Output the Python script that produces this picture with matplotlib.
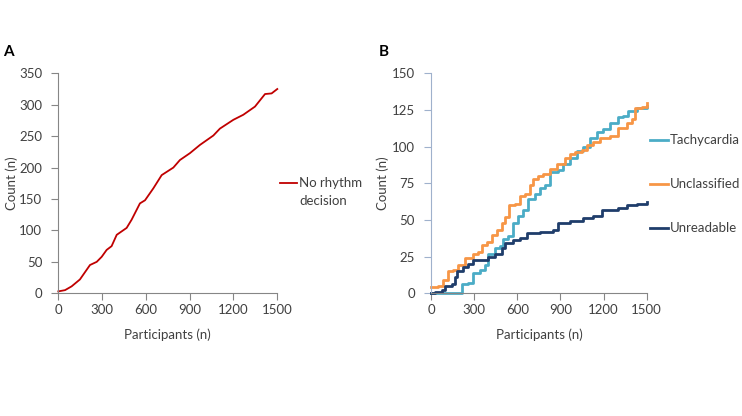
import matplotlib.pyplot as plt

plt.rcParams['font.family'] = ['Lato', 'DejaVu Sans']

# panel A: no rhythm decision (cumulative count)
x_a = [0, 46, 91, 148, 217, 263, 297, 331, 365, 400, 468, 502, 559, 594, 651, 708,
       788, 833, 902, 970, 1062, 1107, 1199, 1267, 1347, 1416, 1461, 1500]
y_a = [3, 5, 11, 22, 45, 50, 58, 69, 75, 93, 104, 117, 143, 148, 167, 188,
       200, 212, 223, 236, 251, 262, 276, 284, 297, 317, 318, 325]

# panel B
x_tachy = [0, 183, 213, 260, 294, 341, 376, 399, 445, 480, 503, 538, 573, 607, 642, 677, 723,
           758, 793, 828, 886, 920, 967, 1013, 1060, 1106, 1152, 1199, 1245, 1303, 1338,
           1373, 1431, 1500]
y_tachy = [0, 0, 6, 7, 14, 16, 19, 27, 31, 32, 37, 39, 48, 53, 57, 64, 68,
           72, 74, 83, 84, 88, 92, 97, 100, 106, 110, 112, 116, 120, 121,
           124, 126, 128]

x_uncl = [0, 51, 86, 121, 155, 190, 237, 271, 294, 329, 352, 387, 422, 457, 491, 515, 545,
          584, 619, 654, 689, 712, 747, 781, 828, 874, 932, 967, 1002, 1048, 1083, 1129,
          1176, 1245, 1303, 1361, 1396, 1419, 1465, 1500]
y_uncl = [4, 5, 9, 15, 16, 19, 24, 24, 27, 28, 33, 35, 40, 43, 48, 52, 60,
          61, 66, 68, 74, 78, 80, 81, 85, 88, 92, 95, 96, 98, 101, 103,
          106, 107, 113, 116, 119, 126, 127, 130]

x_unread = [0, 28, 74, 97, 144, 167, 183, 225, 260, 294, 364, 399, 445, 491, 515, 573, 619,
            665, 758, 851, 886, 967, 1060, 1129, 1187, 1303, 1361, 1431, 1500]
y_unread = [0, 1, 2, 5, 6, 11, 15, 18, 20, 23, 23, 25, 27, 31, 34, 36, 38,
            41, 42, 43, 48, 49, 51, 53, 57, 58, 60, 61, 62]

xticks = [0, 300, 600, 900, 1200, 1500]

fig = plt.figure(figsize=(7.42, 4.16), dpi=100)
ax_a = fig.add_axes([0.0786, 0.295, 0.2951, 0.5288])
ax_b = fig.add_axes([0.5809, 0.295, 0.2907, 0.5288])

fs = 9.5
txt = '#404040'


def style(ax, ymax, ystep, left_col):
    ax.set_xlim(0, 1500)
    ax.set_ylim(0, ymax)
    ax.set_xticks(xticks)
    ax.set_yticks(range(0, ymax + 1, ystep))
    for s in ['top', 'right']:
        ax.spines[s].set_visible(False)
    ax.spines['bottom'].set_color('#868686')
    ax.spines['left'].set_color(left_col)
    ax.tick_params(axis='x', length=5, color='#868686', labelsize=fs, labelcolor=txt, pad=2.5)
    ax.tick_params(axis='y', length=5, color=left_col, labelsize=fs, labelcolor=txt, pad=6.5)
    ax.set_xlabel('Participants (n)', fontsize=fs, color=txt)
    ax.set_ylabel('Count (n)', fontsize=fs, color=txt)
    ax.xaxis.set_label_coords(0.5, -0.159)


style(ax_a, 350, 50, '#868686')
style(ax_b, 150, 25, '#9fb1cc')
ax_a.yaxis.set_label_coords(-0.184, 0.5)
ax_b.yaxis.set_label_coords(-0.195, 0.5)

ax_a.plot(x_a, y_a, color='#c00000', lw=1.3, clip_on=False)

series = [
    ('Tachycardia', x_tachy, y_tachy, '#4bacc6', 0.697),
    ('Unclassified', x_uncl, y_uncl, '#f79646', 0.497),
    ('Unreadable', x_unread, y_unread, '#1f3d6b', 0.297),
]
for name, xs, ys, col, ly in series:
    ax_b.plot(xs, ys, color=col, lw=2, drawstyle='steps-post', clip_on=False)
    ax_b.plot([1.015, 1.099], [ly, ly], color=col, lw=2,
              transform=ax_b.transAxes, clip_on=False)
    ax_b.text(1.108, ly, name, transform=ax_b.transAxes, fontsize=fs,
              color=txt, va='center')

# legend A
ax_a.plot([1.012, 1.090], [0.501, 0.501], color='#c00000', lw=1.3,
          transform=ax_a.transAxes, clip_on=False)
ax_a.text(1.099, 0.501, 'No rhythm', transform=ax_a.transAxes, fontsize=fs,
          color=txt, va='center')
ax_a.text(1.099, 0.420, 'decision', transform=ax_a.transAxes, fontsize=fs,
          color=txt, va='center')

fig.text(8 / 742, 1 - 52 / 416, 'A', fontsize=11, fontweight='bold', ha='center', va='center')
fig.text(384 / 742, 1 - 52 / 416, 'B', fontsize=11, fontweight='bold', ha='center', va='center')

plt.savefig('out.png', dpi=100)
